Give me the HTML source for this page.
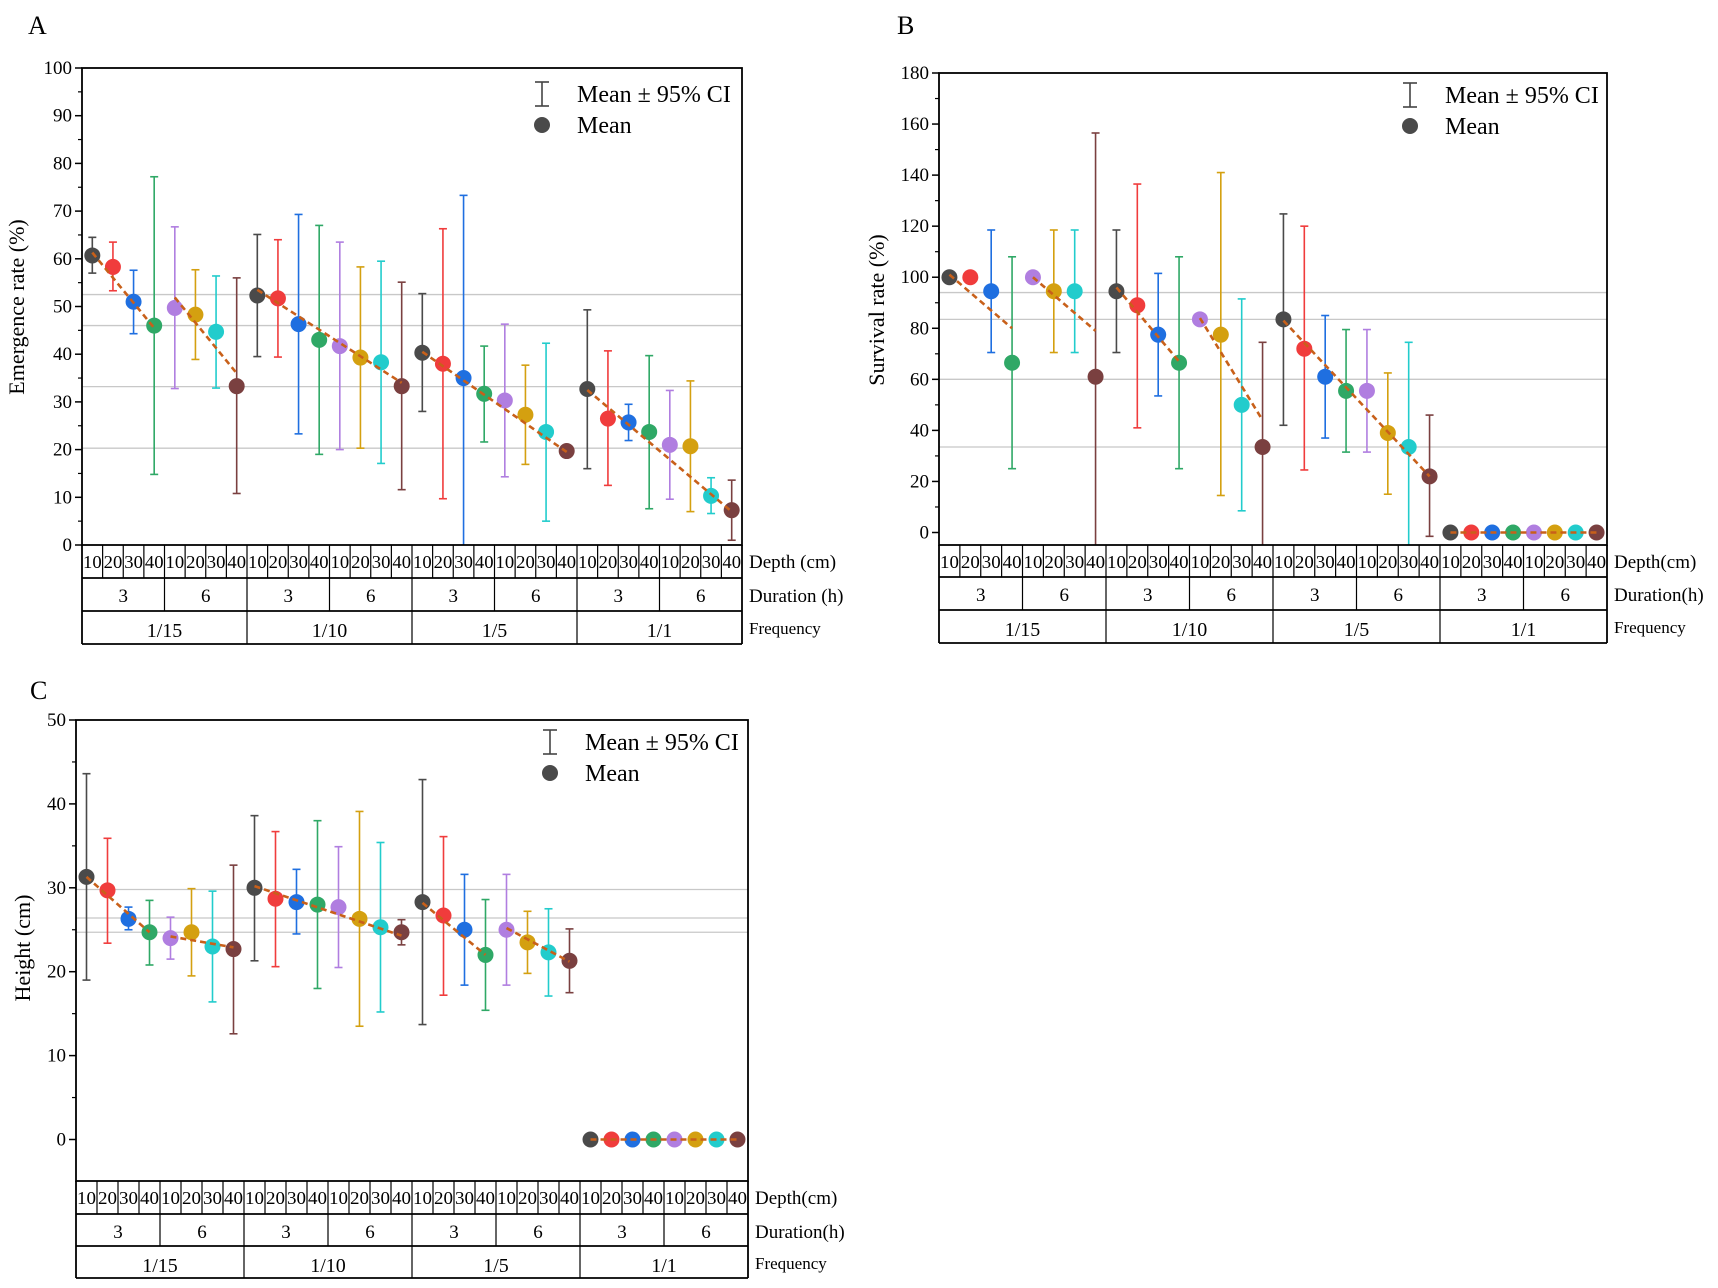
<!DOCTYPE html>
<html><head><meta charset="utf-8"><style>
html,body{margin:0;padding:0;background:#fff;}
svg{display:block;font-family:"Liberation Serif",serif;}
</style></head><body>
<svg id="fig" width="1718" height="1288" viewBox="0 0 1718 1288"></svg>
<script>
// ---------- data ----------
const depths=["10","20","30","40"];
const durations=["3","6"];
const frequencies=["1/15","1/10","1/5","1/1"];
const colors=["#4a4a4a","#f03c3c","#1f6fe0","#2fa866","#b07ee0","#d4a010","#22cccc","#7a4040"];

const aMean=[60.7,58.3,51,46, 49.7,48.3,44.7,33.3, 52.3,51.7,46.3,43, 41.7,39.3,38.3,33.3, 40.3,38,35,31.7, 30.3,27.3,23.7,19.7, 32.7,26.5,25.7,23.7, 21,20.7,10.3,7.3];
const aLo=[57,53.3,44.3,14.8, 32.8,38.9,32.9,10.8, 39.5,39.4,23.3,19, 20,20.3,17.1,11.6, 28,9.7,-3,21.6, 14.3,16.9,5,18.5, 16,12.5,21.9,7.6, 9.6,7,6.6,1];
const aHi=[64.5,63.5,57.6,77.2, 66.7,57.7,56.4,56, 65.1,64,69.3,67, 63.5,58.3,59.5,55.1, 52.7,66.3,73.3,41.7, 46.3,37.7,42.3,20.8, 49.3,40.7,29.5,39.7, 32.4,34.4,14.1,13.6];
const aTicks=[0,10,20,30,40,50,60,70,80,90,100];
const aRef=[52.5,46,33.2,20.3];
const aTrend=[[0,3,61.3,45.5],[4,7,51.9,36],[8,15,53.5,34],[16,23,40.5,19.5],[24,31,32.5,7]];

const bMean=[100,100,94.5,66.5, 100,94.5,94.5,61, 94.5,89,77.5,66.5, 83.5,77.5,50,33.5, 83.5,72,61,55.5, 55.5,39,33.5,22, 0,0,0,0, 0,0,0,0];
const bLo=[100,100,70.5,25, 100,70.5,70.5,-6, 70.5,41,53.5,25, 83.5,14.5,8.5,-6, 42,24.5,37,31.5, 31.5,15,-6,-1.5, 0,0,0,0, 0,0,0,0];
const bHi=[100,100,118.5,108, 100,118.5,118.5,156.5, 118.5,136.5,101.5,108, 83.5,141,91.5,74.5, 124.8,120,85,79.5, 79.5,62.5,74.5,46, 0,0,0,0, 0,0,0,0];
const bTicks=[0,20,40,60,80,100,120,140,160,180];
const bRef=[94,83.5,60,33.5];
const bTrend=[[0,3,101,80],[4,7,100,79],[8,11,96,67],[12,15,84,44],[16,23,83,22],[24,31,0,0]];

const cMean=[31.3,29.7,26.3,24.7, 24,24.7,23,22.7, 30,28.7,28.3,28, 27.7,26.3,25.3,24.7, 28.3,26.7,25,22, 25,23.5,22.3,21.3, 0,0,0,0, 0,0,0,0];
const cLo=[19,23.4,25,20.8, 21.5,19.5,16.4,12.6, 21.3,20.6,24.5,18, 20.5,13.5,15.2,23.2, 13.7,17.2,18.4,15.4, 18.4,19.8,17.1,17.5, 0,0,0,0, 0,0,0,0];
const cHi=[43.6,35.9,27.7,28.5, 26.5,29.9,29.6,32.7, 38.6,36.7,32.2,38, 34.9,39.1,35.4,26.2, 42.9,36.1,31.6,28.6, 31.6,27.2,27.5,25.1, 0,0,0,0, 0,0,0,0];
const cTicks=[0,10,20,30,40,50];
const cRef=[29.8,26.4,24.7];
const cTrend=[[0,3,31.3,24.7],[4,7,24.2,22.9],[8,15,30.2,24.3],[16,19,28.2,22],[20,23,25.2,21.2],[24,31,0,0]];

// ---------- drawing ----------
const NS="http://www.w3.org/2000/svg";
const svg=document.getElementById('fig');
function mk(tag,attrs,parent,txt){const e=document.createElementNS(NS,tag);for(const k in attrs)e.setAttribute(k,attrs[k]);if(txt!==undefined)e.textContent=txt;(parent||svg).appendChild(e);return e;}

function panel(p){
  const g=mk('g',{});
  
  
  const n=32, cw=(p.x1-p.x0)/n;
  const Y=v=>p.yZero-(v)*(p.yZero-p.yTop)/p.yMax;
  const X=i=>p.x0+cw*(i+0.5);
  const clipY=v=>Math.min(Math.max(Y(v),p.yTop),p.yBot);
  const L=mk('text',{x:p.lx,y:p.ly,'font-size':26},g,p.letter);
  
  
  p.ref.forEach(v=>{const l=mk('line',{x1:p.x0,x2:p.x1,y1:Y(v),y2:Y(v),stroke:'#c8c8c8','stroke-width':1.3},g);
    });
  const step=p.ticks[1]-p.ticks[0];
  p.ticks.forEach((t,k)=>{
    mk('line',{x1:p.x0-7,x2:p.x0,y1:Y(t),y2:Y(t),stroke:'#000','stroke-width':1.5},g);
    const tl=mk('text',{x:p.x0-10,y:Y(t)+6,'font-size':19,'text-anchor':'end'},g,String(t));
    
    const m=t+step/2;
    if(k<p.ticks.length-1) mk('line',{x1:p.x0-4,x2:p.x0,y1:Y(m),y2:Y(m),stroke:'#000','stroke-width':1.2},g);
  });
  if(p.yMin<0){const m=-step/2; if(Y(m)<=p.yBot) mk('line',{x1:p.x0-4,x2:p.x0,y1:Y(m),y2:Y(m),stroke:'#000','stroke-width':1.2},g);}
  const yt=mk('text',{x:0,y:0,'font-size':22,'text-anchor':'middle',transform:`translate(${p.tx},${p.ty}) rotate(-90)`},g,p.ytitle);
  
  for(let i=0;i<n;i++){
    if(p.hi[i]===p.lo[i]) continue;
    const c=colors[i%8], x=X(i);
    const e=mk('g',{stroke:c,'stroke-width':1.6},g);
    
    const yh=clipY(p.hi[i]), yl=clipY(p.lo[i]);
    mk('line',{x1:x,x2:x,y1:yh,y2:yl},e);
    mk('line',{x1:x-4,x2:x+4,y1:Y(p.hi[i]),y2:Y(p.hi[i])},e);
    if(Y(p.lo[i])<=p.yBot) mk('line',{x1:x-4,x2:x+4,y1:Y(p.lo[i]),y2:Y(p.lo[i])},e);
  }
  for(let i=0;i<n;i++){
    const c=mk('circle',{cx:X(i),cy:Y(p.mean[i]),r:8,fill:colors[i%8]},g);
    
  }
  p.trend.forEach(t=>{
    const l=mk('line',{x1:X(t[0]),x2:X(t[1]),y1:Y(t[2]),y2:Y(t[3]),stroke:'#c8601a','stroke-width':2.6,'stroke-dasharray':'6,4'},g);
    
  });
  const fr=mk('rect',{x:p.x0,y:p.yTop,width:p.x1-p.x0,height:p.yBot-p.yTop,fill:'none',stroke:'#000','stroke-width':1.8},g);
  
  const lg=mk('g',{},g);
  
  const lx=p.legX, ly=p.legY;
  mk('line',{x1:lx,x2:lx,y1:ly-12,y2:ly+12,stroke:'#444','stroke-width':1.6},lg);
  mk('line',{x1:lx-7,x2:lx+7,y1:ly-12,y2:ly-12,stroke:'#444','stroke-width':1.6},lg);
  mk('line',{x1:lx-7,x2:lx+7,y1:ly+12,y2:ly+12,stroke:'#444','stroke-width':1.6},lg);
  mk('text',{x:lx+35,y:ly+8,'font-size':24},lg,'Mean ± 95% CI');
  mk('circle',{cx:lx,cy:ly+31,r:8,fill:'#4a4a4a'},lg);
  mk('text',{x:lx+35,y:ly+39,'font-size':24},lg,'Mean');
  const tb=mk('g',{},g);
  
  const r=p.rows;
  [r[1],r[2],r[3]].forEach(y=>mk('line',{x1:p.x0,x2:p.x1,y1:y,y2:y,stroke:'#000','stroke-width':1.8},tb));
  mk('line',{x1:p.x0,x2:p.x0,y1:r[0],y2:r[3],stroke:'#000','stroke-width':1.8},tb);
  mk('line',{x1:p.x1,x2:p.x1,y1:r[0],y2:r[3],stroke:'#000','stroke-width':1.8},tb);
  for(let i=0;i<n;i++){
    if(i>0) mk('line',{x1:p.x0+cw*i,x2:p.x0+cw*i,y1:r[0],y2:i%4===0?r[i%8===0?3:2]:r[1],stroke:'#000','stroke-width':1.2},tb);
    const t=mk('text',{x:X(i),y:r[0]+23,'font-size':18,'text-anchor':'middle',textLength:cw-2,lengthAdjust:'spacingAndGlyphs'},tb,depths[i%4]);
    
  }
  for(let j=0;j<8;j++){
    const t=mk('text',{x:p.x0+cw*(j*4+2),y:r[1]+24,'font-size':19,'text-anchor':'middle'},tb,durations[j%2]);
    
  }
  for(let j=0;j<4;j++){
    const t=mk('text',{x:p.x0+cw*(j*8+4),y:r[2]+26,'font-size':20,'text-anchor':'middle'},tb,frequencies[j]);
    
  }
  const sx=p.x1+7;
  [[p.dlab,r[0]+23],[p.ulab,r[1]+24],['Frequency',r[2]+23]].forEach(a=>{
    const t=mk('text',{x:sx,y:a[1],'font-size':a[0]==='Frequency'?17:19},tb,a[0]);
    
  });
}

panel({name:'panel-a-emergence',letter:'A',lx:28,ly:34,x0:82,x1:742,yTop:68,yZero:545,yBot:545,yMax:100,yMin:0,
  ticks:aTicks,ref:aRef,mean:aMean,lo:aLo,hi:aHi,trend:aTrend,ytitle:'Emergence rate (%)',tx:24,ty:307,
  legX:542,legY:94,rows:[545,578,611,644],dlab:'Depth (cm)',ulab:'Duration (h)'});
panel({name:'panel-b-survival',letter:'B',lx:897,ly:34,x0:939,x1:1607,yTop:73,yZero:532.5,yBot:545,yMax:180,yMin:-5,
  ticks:bTicks,ref:bRef,mean:bMean,lo:bLo,hi:bHi,trend:bTrend,ytitle:'Survival rate (%)',tx:884,ty:310,
  legX:1410,legY:95,rows:[545,577,610,643],dlab:'Depth(cm)',ulab:'Duration(h)'});
panel({name:'panel-c-height',letter:'C',lx:30,ly:699,x0:76,x1:748,yTop:720,yZero:1139.5,yBot:1181,yMax:50,yMin:-5,
  ticks:cTicks,ref:cRef,mean:cMean,lo:cLo,hi:cHi,trend:cTrend,ytitle:'Height (cm)',tx:30,ty:948,
  legX:550,legY:742,rows:[1181,1214,1246,1278],dlab:'Depth(cm)',ulab:'Duration(h)'});
</script>
</body></html>
